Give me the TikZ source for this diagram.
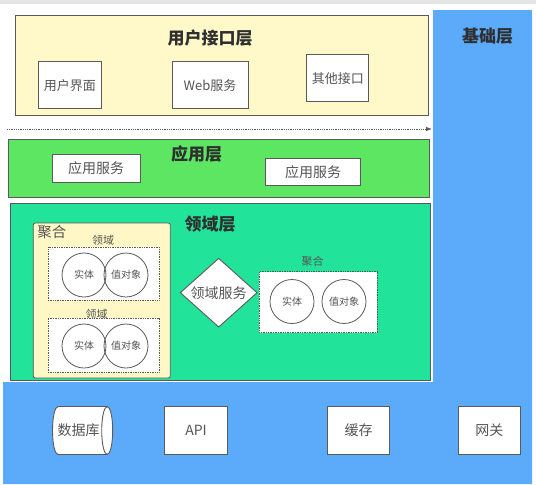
\documentclass[tikz,border=0pt]{standalone}
\usepackage{fontspec}
\setmainfont{Noto Sans CJK SC}
\usetikzlibrary{shapes.geometric,arrows.meta}
\definecolor{uiyellow}{HTML}{FFF9C9}
\definecolor{appgreen}{HTML}{5CE662}
\definecolor{domteal}{HTML}{22E39A}
\definecolor{infblue}{HTML}{5BABFA}
\definecolor{aggyellow}{HTML}{FFF8C6}
\definecolor{edgec}{HTML}{5A5A5A}
\definecolor{txtc}{HTML}{555555}
\definecolor{ttlc}{HTML}{2F2F2F}
\definecolor{barc}{HTML}{E4E4E4}
\begin{document}
\begin{tikzpicture}[x=1pt,y=-1pt,
  layerbox/.style={draw=edgec, line width=0.8pt, inner sep=0pt},
  ttl/.style={text=ttlc, font=\fontsize{17}{20}\selectfont\bfseries, inner sep=0pt},
  wbox/.style={draw=edgec, line width=0.9pt, fill=white, text=txtc, inner sep=0pt},
  dotbox/.style={draw=edgec, densely dotted, line width=0.7pt, fill=white, inner sep=0pt},
  circ/.style={circle, draw=edgec, line width=0.8pt, minimum size=44pt, inner sep=0pt, text=txtc, font=\fontsize{10}{12}\selectfont},
  lbl/.style={text=txtc, inner sep=0pt}
]
\useasboundingbox (0,0) rectangle (536,485);
% screenshot top bar
\fill[barc] (0,0) rectangle (536,4);
% infrastructure L-shape
\fill[infblue] (433,10) -- (532,10) -- (532,484) -- (3,484) -- (3,382) -- (433,382) -- cycle;
\node[ttl] (infT) at (487.5,36) {基础层};

% user interface layer
\node[layerbox, fill=uiyellow, minimum width=413pt, minimum height=100pt] (ui) at (221.5,65) {};
\node[ttl] (uiT) at (210,38) {用户接口层};
\node[wbox, minimum width=62.6pt, minimum height=47.2pt, font=\fontsize{13}{15}\selectfont] (ui1) at (69.9,85.1) {用户界面};
\node[wbox, minimum width=76pt, minimum height=47.2pt, font=\fontsize{13}{15}\selectfont] (ui2) at (210,85.1) {Web服务};
\node[wbox, minimum width=62pt, minimum height=47.2pt, font=\fontsize{13}{15}\selectfont] (ui3) at (337.8,78.3) {其他接口};

% dotted arrow
\coordinate (arrS) at (7,129);
\coordinate (arrE) at (432,129);
\draw[edgec, densely dotted, line width=0.8pt, -{Latex[length=6pt,width=4.5pt]}] (arrS) -- (arrE);

% application layer
\node[layerbox, fill=appgreen, minimum width=421pt, minimum height=58.5pt] (app) at (218.5,168.2) {};
\node[ttl] (appT) at (196.6,154) {应用层};
\node[wbox, minimum width=88pt, minimum height=28pt, font=\fontsize{14}{16}\selectfont] (as1) at (96.2,168.2) {应用服务};
\node[wbox, minimum width=94.7pt, minimum height=27.3pt, font=\fontsize{14}{16}\selectfont] (as2) at (313,172) {应用服务};

% domain layer
\node[layerbox, fill=domteal, minimum width=420pt, minimum height=177pt] (dom) at (220,291.5) {};
\node[ttl] (domT) at (210,224) {领域层};

% aggregate 1
\node[layerbox, fill=aggyellow, rounded corners=2pt, minimum width=137pt, minimum height=155pt] (agg1) at (101.8,300.5) {};
\node[lbl, font=\fontsize{14.5}{16}\selectfont] (agg1L) at (52,232) {聚合};
\node[lbl, font=\fontsize{11}{13}\selectfont] (d1L) at (103,240) {领域};
\node[dotbox, minimum width=111pt, minimum height=53pt] (d1) at (103.5,273.5) {};
\node[circ] (e1) at (84,275) {实体};
\node[circ] (v1) at (126,275) {值对象};
\node[lbl, font=\fontsize{11}{13}\selectfont] (d2L) at (96.7,314) {领域};
\node[dotbox, minimum width=111pt, minimum height=54pt] (d2) at (103.5,345.3) {};
\node[circ] (e2) at (84,346) {实体};
\node[circ] (v2) at (126,346) {值对象};

% domain service
\node[diamond, draw=edgec, line width=0.9pt, fill=white, text=txtc, inner sep=0pt, minimum width=77pt, minimum height=47pt, font=\fontsize{14}{16}\selectfont] (ds) at (218.7,292.7) {领域服务};

% aggregate 2
\node[lbl, font=\fontsize{11}{13}\selectfont] (agg2L) at (312.7,261) {聚合};
\node[dotbox, minimum width=118pt, minimum height=61pt] (d3) at (318.3,302.2) {};
\node[circ] (e3) at (292,301.5) {实体};
\node[circ] (v3) at (344,301.5) {值对象};

% infrastructure components
% database cylinder (drawn as shape)
\filldraw[draw=edgec, fill=white, line width=0.9pt]
  (107.2,406.5) -- (58,406.5)
  arc[start angle=-90, end angle=-270, x radius=5.5, y radius=24]
  -- (107.2,454.5)
  arc[start angle=90, end angle=-90, x radius=5.5, y radius=24];
\draw[edgec, line width=0.9pt] (107.2,406.5) arc[start angle=-90, end angle=-270, x radius=5.5, y radius=24];
\node[text=txtc, inner sep=0pt, font=\fontsize{14}{16}\selectfont] (db) at (78.5,430.5) {数据库};
\node[wbox, minimum width=62.5pt, minimum height=48pt, font=\fontsize{14}{16}\selectfont] (api) at (196,430.5) {API};
\node[wbox, minimum width=62pt, minimum height=48pt, font=\fontsize{14}{16}\selectfont] (cache) at (358.6,430.5) {缓存};
\node[wbox, minimum width=62.5pt, minimum height=48pt, font=\fontsize{14}{16}\selectfont] (gw) at (489.4,430.5) {网关};
\end{tikzpicture}
\end{document}
